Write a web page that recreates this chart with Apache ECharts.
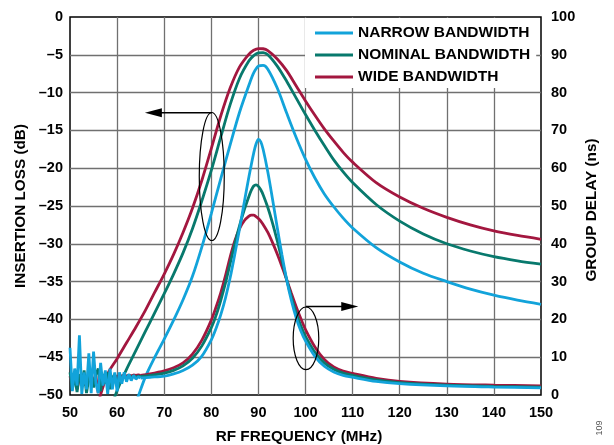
<!DOCTYPE html>
<html>
<head>
<meta charset="utf-8">
<script src="https://cdn.jsdelivr.net/npm/echarts/dist/echarts.min.js"></script>
<style>
  html, body { margin: 0; padding: 0; background: #fff; }
  #main { width: 614px; height: 445px; }
</style>
</head>
<body>
<div id="main"></div>
<script>
// insertion loss (left axis, dB)
var ilFreq = [56, 58, 60, 62, 64, 66, 68, 70, 72, 74, 76, 78, 80, 82, 84, 86, 88, 89, 90, 91, 92, 94, 96, 98, 100, 102, 104, 106, 108, 110, 115, 120, 125, 130, 135, 140, 145, 150];
var ilWide = [-51, -47.2, -45.2, -43.1, -41, -38.8, -36.4, -34, -31.4, -28.5, -25.3, -21.6, -17.4, -13.1, -9.4, -6.6, -4.9, -4.4, -4.17, -4.2, -4.45, -5.55, -7.1, -9.1, -11.1, -13.0, -14.8, -16.4, -17.9, -19.2, -21.9, -23.8, -25.3, -26.5, -27.5, -28.3, -28.9, -29.4];
var ilNominal = [-56, -53, -49.4, -46.6, -44.1, -41.6, -39.1, -36.6, -34, -31.2, -28, -24.3, -20.3, -15.9, -11.6, -8.1, -5.8, -5.1, -4.75, -4.72, -5.0, -6.5, -8.5, -10.7, -12.9, -15.0, -17.0, -18.9, -20.5, -21.9, -24.8, -27.0, -28.7, -30, -30.95, -31.7, -32.25, -32.7];
var ilNarrow = [-62, -59, -56.5, -54, -51, -47.6, -45, -42.6, -40.1, -37.4, -34.3, -30.4, -26, -21.4, -16.9, -12.6, -9, -7.4, -6.5, -6.4, -6.9, -9.4, -12.7, -15.9, -18.8, -21.3, -23.4, -25.1, -26.6, -27.9, -30.5, -32.4, -33.9, -35, -36, -36.8, -37.45, -38];

// group delay (right axis, ns)
var gdFreq = [65, 67, 70, 72, 74, 76, 78, 80, 81, 82, 83, 84, 85, 86, 87, 88, 88.5, 89, 89.5, 90, 90.5, 91, 92, 93, 94, 95, 96, 97, 98, 99, 100, 102, 104, 106, 108, 110, 115, 120, 130, 140, 150];
var gdWide = [5.2, 5.6, 6.4, 7.2, 8.5, 10.8, 14.5, 19.8, 23.2, 27, 31.5, 36.5, 40.8, 44, 46.1, 47.3, 47.6, 47.6, 47.2, 46.7, 46, 45.1, 43, 40.3, 37.3, 34, 30.5, 26.9, 23.4, 20.2, 17.3, 12.7, 9.4, 7.4, 6.3, 5.7, 4.4, 3.6, 2.9, 2.6, 2.4];
var gdNominal = [4.9, 5.2, 5.8, 6.5, 7.7, 9.7, 13.0, 17.8, 21, 25, 29.6, 34.8, 40, 44.8, 49, 52.6, 54.2, 55.3, 55.6, 55.2, 54.3, 53, 49.6, 45.5, 40.8, 35.7, 30.5, 25.9, 21.8, 18.3, 15.5, 11.3, 8.5, 6.8, 5.8, 5.2, 4.0, 3.3, 2.6, 2.3, 2.1];
var gdNarrow = [4.5, 4.7, 5.0, 5.6, 6.5, 7.9, 10.3, 14.6, 17.6, 21.2, 25.6, 31, 37.3, 44, 51, 57.8, 61, 64, 66.4, 67.6, 67, 65, 59, 51.8, 44.3, 37.1, 30.5, 25, 20.5, 17, 14.3, 10.2, 7.6, 6.1, 5.2, 4.7, 3.6, 3.0, 2.4, 2.1, 1.9];

// noisy low-frequency group delay measurement
var noiseFreq = [50, 50.5, 51, 51.5, 52, 52.5, 53, 53.5, 54, 54.5, 55, 55.5, 56, 56.5, 57, 57.5, 58, 58.5, 59, 59.5, 60, 60.5, 61, 61.5, 62, 62.5, 63, 63.5, 64, 64.5, 65];
var noiseWide = [5, 2.5, 5.5, 1.5, 4.5, 5.5, 2.5, 5, 3.5, 5.5, 3.5, 5, 0.5, 5, 3.5, 5.3, 4.3, 5.2, 4.4, 5.2, 4.7, 5.3, 4.9, 5.3, 5.0, 5.3, 5.1, 5.3, 5.2, 5.3, 5.2];
var noiseNominal = [6, 1.5, 5, 0.8, 5.5, 3, 6.5, 0.5, 4.5, 6, 2, 5.5, 7, 1, 5.5, 3, 6, 1.5, 4.5, 5.5, 2.5, 5.5, 3.8, 5.4, 4.3, 5.2, 4.6, 5.1, 4.7, 5.0, 4.9];
var noiseNarrow = [12.5, 1, 7, 2.5, 15.8, 0.3, 6, 1.5, 11, 0.5, 11.5, 3, 0.5, 8.5, 2.5, 6.5, 0.3, 7, 1.5, 6, 1, 6, 3, 6, 3.5, 5.5, 3.8, 5.2, 4.2, 4.8, 4.5];

var yLeftTicks = { min: -50, max: 0, interval: 5 };
var yRightTicks = { min: 0, max: 100, interval: 10 };
var xTicks = { min: 50, max: 150, interval: 10 };

var names = ['NARROW BANDWIDTH', 'NOMINAL BANDWIDTH', 'WIDE BANDWIDTH'];
var colors = { narrow: '#12a3da', nominal: '#08796d', wide: '#a3173f' };

function pairs(xs, ys) {
    return xs.map(function (x, i) { return [x, ys[i]]; });
}

var font = 'Liberation Sans, Arial, sans-serif';
var chart = echarts.init(document.getElementById('main'));

function lineSeries(name, color, xs, ys, axis, smooth) {
    return {
        name: name,
        type: 'line',
        yAxisIndex: axis,
        data: pairs(xs, ys),
        smooth: smooth,
        showSymbol: false,
        symbol: 'none',
        clip: true,
        color: color,
        lineStyle: { color: color, width: 2.8 }
    };
}

chart.setOption({
    animation: false,
    backgroundColor: '#fff',
    grid: {
        left: 70, right: 73, top: 17, bottom: 50,
        show: true, borderColor: '#000', borderWidth: 1.5
    },
    legend: {
        data: names,
        orient: 'vertical',
        left: 305, top: 18,
        padding: [7, 6, 3, 10],
        backgroundColor: '#fff',
        icon: 'rect',
        itemWidth: 38, itemHeight: 3,
        itemGap: 6, itemTextGap: 8,
        textStyle: { color: '#000', fontWeight: 'bold', fontSize: 15.5, lineHeight: 16, fontFamily: font }
    },
    xAxis: {
        type: 'value',
        min: xTicks.min, max: xTicks.max, interval: xTicks.interval,
        axisLine: { show: false },
        axisTick: { show: false },
        axisLabel: { color: '#000', fontWeight: 'bold', fontSize: 14.5, fontFamily: font, margin: 10 },
        splitLine: { show: true, showMinLine: false, showMaxLine: false, lineStyle: { color: '#707070', width: 1.3 } }
    },
    yAxis: [{
        type: 'value',
        min: yLeftTicks.min, max: yLeftTicks.max, interval: yLeftTicks.interval,
        axisLine: { show: false },
        axisTick: { show: false },
        axisLabel: {
            color: '#000', fontWeight: 'bold', fontSize: 14.5, fontFamily: font, margin: 7,
            formatter: function (v) { return v < 0 ? '\u2013' + Math.abs(v) : String(v); }
        },
        splitLine: { show: true, showMinLine: false, showMaxLine: false, lineStyle: { color: '#707070', width: 1.3 } }
    }, {
        type: 'value',
        position: 'right',
        min: yRightTicks.min, max: yRightTicks.max, interval: yRightTicks.interval,
        axisLine: { show: false },
        axisTick: { show: false },
        axisLabel: { color: '#000', fontWeight: 'bold', fontSize: 14.5, fontFamily: font, margin: 10 },
        splitLine: { show: false }
    }],
    series: [
        lineSeries(names[2], colors.wide, ilFreq, ilWide, 0, 0.3),
        lineSeries(names[1], colors.nominal, ilFreq, ilNominal, 0, 0.3),
        lineSeries(names[0], colors.narrow, ilFreq, ilNarrow, 0, 0.3),
        lineSeries(names[2], colors.wide, noiseFreq, noiseWide, 1, false),
        lineSeries(names[2], colors.wide, gdFreq, gdWide, 1, 0.3),
        lineSeries(names[1], colors.nominal, noiseFreq, noiseNominal, 1, false),
        lineSeries(names[1], colors.nominal, gdFreq, gdNominal, 1, 0.3),
        lineSeries(names[0], colors.narrow, noiseFreq, noiseNarrow, 1, false),
        lineSeries(names[0], colors.narrow, gdFreq, gdNarrow, 1, 0.3)
    ]
});

// annotations placed in data coordinates of the left axis
function px(x, y) { return chart.convertToPixel({ xAxisIndex: 0, yAxisIndex: 0 }, [x, y]); }
var e1 = px(80.1, -21.1), e1top = px(80.1, -12.65), a1tip = px(65.9, -12.65);
var e2 = px(100.1, -42.5), e2top = px(100.1, -38.3), a2tip = px(111.2, -38.3);
var ink = { stroke: '#000', fill: null, lineWidth: 1.2 };

chart.setOption({
    graphic: [
        { type: 'ellipse', shape: { cx: e1[0], cy: e1[1], rx: 12.5, ry: 64 }, style: ink, z: 10 },
        { type: 'line', shape: { x1: e1top[0], y1: e1top[1], x2: a1tip[0] + 14, y2: a1tip[1] }, style: { stroke: '#000', lineWidth: 1.5 }, z: 10 },
        { type: 'polygon', shape: { points: [[a1tip[0], a1tip[1]], [a1tip[0] + 17, a1tip[1] - 4.5], [a1tip[0] + 17, a1tip[1] + 4.5]] }, style: { fill: '#000' }, z: 10 },
        { type: 'ellipse', shape: { cx: e2[0], cy: e2[1], rx: 12.8, ry: 31.3 }, style: ink, z: 10 },
        { type: 'line', shape: { x1: e2top[0], y1: e2top[1], x2: a2tip[0] - 14, y2: a2tip[1] }, style: { stroke: '#000', lineWidth: 1.5 }, z: 10 },
        { type: 'polygon', shape: { points: [[a2tip[0], a2tip[1]], [a2tip[0] - 17, a2tip[1] - 4.5], [a2tip[0] - 17, a2tip[1] + 4.5]] }, style: { fill: '#000' }, z: 10 },
        {
            type: 'text', x: 299, y: 437,
            style: { text: 'RF FREQUENCY (MHz)', font: 'bold 15.3px ' + font, fill: '#000', align: 'center', verticalAlign: 'middle' }
        },
        {
            type: 'text', x: 20.5, y: 206, rotation: Math.PI / 2,
            style: { text: 'INSERTION LOSS (dB)', font: 'bold 15.3px ' + font, fill: '#000', align: 'center', verticalAlign: 'middle' }
        },
        {
            type: 'text', x: 592, y: 210, rotation: Math.PI / 2,
            style: { text: 'GROUP DELAY (ns)', font: 'bold 15.3px ' + font, fill: '#000', align: 'center', verticalAlign: 'middle' }
        },
        {
            type: 'text', x: 600, y: 428, rotation: Math.PI / 2,
            style: { text: '109', font: '9px ' + font, fill: '#555', align: 'center', verticalAlign: 'middle' }
        }
    ]
});
</script>
</body>
</html>
